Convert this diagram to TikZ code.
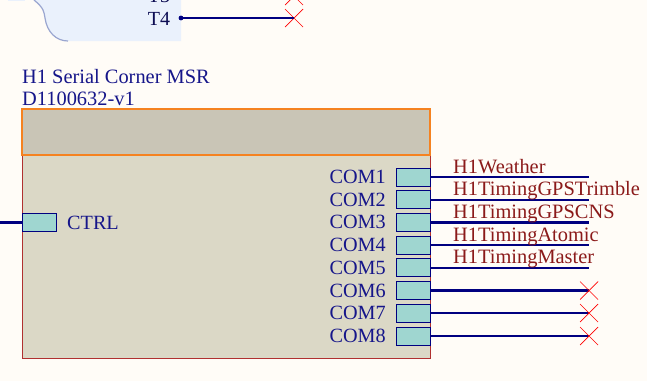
\documentclass[tikz,border=0pt]{standalone}
\usepackage{fontspec}
\setmainfont{Liberation Serif}
\usetikzlibrary{shapes.misc}
\definecolor{paper}{HTML}{FFFCF7}
\definecolor{symfill}{HTML}{EAF1FC}
\definecolor{symedge}{HTML}{9AA6D0}
\definecolor{bodyfill}{HTML}{DBD8C6}
\definecolor{headfill}{HTML}{C9C5B6}
\definecolor{pinfill}{HTML}{9FD6D0}
\definecolor{wireblue}{HTML}{000080}
\definecolor{textblue}{HTML}{16168A}
\definecolor{netred}{HTML}{8B1A1A}
\definecolor{headedge}{HTML}{F58220}
\definecolor{bodyedge}{HTML}{B03030}
\tikzset{
  pinbox/.style={draw=wireblue,fill=pinfill,line width=1pt,minimum width=34pt,minimum height=18pt,inner sep=0pt,outer sep=0pt},
  pinlabel/.style={text=textblue,font=\fontsize{20.2}{20}\selectfont,inner sep=0pt},
  netlabel/.style={text=netred,font=\fontsize{20.4}{20}\selectfont,inner sep=0pt,anchor=base west},
  titlelabel/.style={text=textblue,font=\fontsize{20.4}{20}\selectfont,inner sep=0pt,anchor=base west},
  wire/.style={draw=wireblue,line width=2.2pt},
  noconn/.style={draw=red,cross out,line width=0.7pt,minimum size=18pt,inner sep=0pt,outer sep=0pt},
}
\begin{document}
\begin{tikzpicture}[x=1pt,y=-1pt]
    \useasboundingbox (0,0) rectangle (647,381);
    \clip (0,0) rectangle (647,381);
    \fill[paper] (0,0) rectangle (647,381);
    % symbol above
    \fill[symfill] (8,0) rectangle (25,1);
    \fill[symfill] (34,0) .. controls (44,8) and (44,12) .. (45,18) .. controls (47,32) and (56,41) .. (68,41) -- (181,41) -- (181,0) -- cycle;
    \draw[symedge,line width=1.2pt] (34,0) .. controls (44,8) and (44,12) .. (45,18) .. controls (47,32) and (56,41) .. (68,41);
    \node[text=textblue!60!black,font=\fontsize{20}{20}\selectfont,inner sep=0pt] (t3) at (159,-4) {T3};
    \node[text=textblue!60!black,font=\fontsize{20}{20}\selectfont,inner sep=0pt] (t4) at (159,19) {T4};
    \fill[wireblue] (181,18) circle (2.4) coordinate (t4dot);
    \node[noconn] (xt3) at (294,-4) {};
    \node[noconn] (xt4) at (294,18) {};
    \draw[wire] (t4dot) -- (xt4.center);
    % title
    \node[titlelabel] (title) at (22,83) {H1 Serial Corner MSR};
    \node[titlelabel] (docnum) at (22,105) {D1100632-v1};
    % body
    \draw[draw=bodyedge,fill=bodyfill,line width=1pt] (22,155) rectangle (430,358);
    \draw[draw=headedge,fill=headfill,line width=2pt] (22,109) rectangle (430,155);
    % ctrl port
    \coordinate (ctrlend) at (0,222.5);
    \node[pinbox] (ctrl) at (39,222.5) {};
    \node[pinlabel,anchor=west] (ctrllab) at (67,223) {CTRL};
    \draw[wire] (ctrlend) -- (ctrl.west);
    % com ports
    \foreach \n/\y in {1/177,2/199.7,3/222.4,4/245,5/267.7,6/290.5,7/313,8/336} {
        \node[pinbox] (com\n) at (413,\y) {};
        \node[pinlabel,anchor=east] (lab\n) at (386,\y) {COM\n};
        \coordinate (end\n) at (589,\y);
        \draw[wire] (com\n.east) -- (end\n);
    }
    \foreach \n/\lab in {1/H1Weather,2/H1TimingGPSTrimble,3/H1TimingGPSCNS,4/H1TimingAtomic,5/H1TimingMaster}
        \node[netlabel] (net\n) at ([yshift=4pt,xshift=23pt]com\n.east |- end\n) {\lab};
    \foreach \n in {6,7,8} \node[noconn] (x\n) at (end\n) {};
\end{tikzpicture}
\end{document}
